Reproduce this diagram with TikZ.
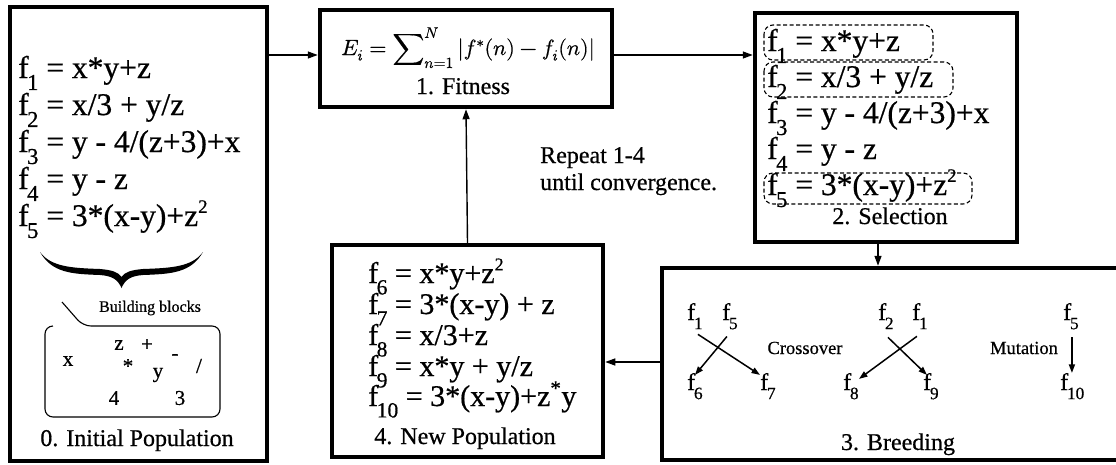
\documentclass[tikz,border=0pt]{standalone}
\usepackage{fontspec}
\usepackage{unicode-math}
\setmainfont{Liberation Serif}[FakeBold=0.6]
\setmathfont{Latin Modern Math}[FakeBold=0.6]
\usepackage{graphicx}
\usetikzlibrary{arrows.meta,calc}
\newcommand\fsb[1]{f\kern-0.05em\raisebox{-0.38em}{\scalebox{0.72}{#1}}}
\newcommand\sqr{\raisebox{0.42em}{\scalebox{0.6}{2}}}
\newcommand\fz[1]{\fontsize{#1}{#1}\selectfont}
\begin{document}
\begin{tikzpicture}[x=1pt,y=-1pt,
  boxx/.style={draw, line width=4.5pt, inner sep=0pt, anchor=center},
  arr/.style={line width=1.4pt, -{Triangle[length=10pt,width=7pt]}},
  sarr/.style={line width=1.5pt, -{Triangle[length=8.5pt,width=6pt]}},
  eq/.style={anchor=base west, inner sep=0pt, font=\fz{31.5}},
  eqs/.style={anchor=base west, inner sep=0pt, font=\fz{30}},
  captxt/.style={anchor=base, inner sep=0pt, font=\fz{24}},
  blk/.style={anchor=center, inner sep=0pt, font=\fz{21}},
  bf/.style={anchor=base west, inner sep=0pt, font=\fz{24}},
  labtxt/.style={anchor=center, inner sep=0pt, font=\fz{18.5}},
  dbox/.style={draw, dashed, dash pattern=on 4pt off 2.5pt, line width=1.1pt, rounded corners=9pt}]
\useasboundingbox (0,0) rectangle (1116,464);
\clip (0,0) rectangle (1116,464);
\coordinate (y55) at (0,55);
\coordinate (y362) at (0,362);
\coordinate (x878) at (878,0);

% boxes
\node[boxx, minimum width=257pt, minimum height=454pt] (b0) at (138.5,234) {};
\node[boxx, minimum width=292pt, minimum height=97pt] (b1) at (466,58.5) {};
\node[boxx, minimum width=262pt, minimum height=229pt] (b2) at (886,127.5) {};
\node[boxx, minimum width=478pt, minimum height=192pt] (b3) at (901,364) {};
\node[boxx, minimum width=271pt, minimum height=212pt] (b4) at (467.5,351) {};

% box 0
\node[eq] (p1) at (18,78) {\fsb{1} = x*y+z};
\node[eq] (p2) at (18,115) {\fsb{2} = x/3 + y/z};
\node[eq] (p3) at (18,152) {\fsb{3} = y - 4/(z+3)+x};
\node[eq] (p4) at (18,189) {\fsb{4} = y - z};
\node[eq] (p5) at (18,226) {\fsb{5} = 3*(x-y)+z\sqr};
\fill (40,252) .. controls (52,273) and (72,274) .. (100,275)
  .. controls (113,276) and (118,280) .. (121.5,288)
  .. controls (125,280) and (130,276) .. (143,275)
  .. controls (171,274) and (191,273) .. (203,252)
  .. controls (192,267) and (171,268) .. (143,269)
  .. controls (131,270) and (125,272) .. (121.5,277)
  .. controls (118,272) and (112,270) .. (100,269)
  .. controls (72,268) and (51,267) .. (40,252) -- cycle;
\node[anchor=center, inner sep=0pt, font=\fz{16}] (bb) at (150,308) {Building blocks};
\draw[line width=1.1pt, rounded corners=8pt] (62,302) -- (83,326) -- (220,326) -- (220,417) -- (45,417) -- (45,326) -- (53,326);
\node[blk] (kx) at (68,361) {x};
\node[blk] (kz) at (119,345) {z};
\node[blk] (kp) at (147,345) {+};
\node[blk] (km) at (175,357) {-};
\node[blk] (ks) at (199,366) {/};
\node[blk] (kst) at (128,366) {*};
\node[blk] (ky) at (158,375) {y};
\node[blk] (k4) at (114,398) {4};
\node[blk] (k3) at (180,398) {3};
\node[captxt] (c0) at (137,446) {0. Initial Population};

% box 1
\node[anchor=base west, inner sep=0pt, font=\fz{22}] (fit) at (341,55)
  {$E_i = \displaystyle\sum\nolimits_{n=1}^{N} |f^{*}(n) - f_i(n)|$};
\node[captxt] (c1) at (463,94) {1. Fitness};

% box 2
\node[eq] (s1) at (767,51) {\fsb{1} = x*y+z};
\node[eq] (s2) at (767,87) {\fsb{2} = x/3 + y/z};
\node[eq] (s3) at (767,123) {\fsb{3} = y - 4/(z+3)+x};
\node[eq] (s4) at (767,159) {\fsb{4} = y - z};
\node[eq] (s5) at (767,195) {\fsb{5} = 3*(x-y)+z\sqr};
\draw[dbox] (764,25) rectangle (933,60);
\draw[dbox] (764,62) rectangle (953,97);
\draw[dbox] (764,173) rectangle (972,204);
\node[captxt] (c2) at (890,224) {2. Selection};

% box 3
\node[bf] (a1) at (687,320) {\fsb{1}};
\node[bf] (a5) at (722,320) {\fsb{5}};
\node[bf] (a6) at (687,390) {\fsb{6}};
\node[bf] (a7) at (760,390) {\fsb{7}};
\node[bf] (d2) at (878,320) {\fsb{2}};
\node[bf] (d1) at (912,320) {\fsb{1}};
\node[bf] (d8) at (843,390) {\fsb{8}};
\node[bf] (d9) at (923,390) {\fsb{9}};
\node[bf] (m5) at (1063,320) {\fsb{5}};
\node[bf] (m10) at (1060,390) {\fsb{10}};
\draw[sarr] ([shift={(3,5)}]a1.south) -- ([shift={(0,2)}]a7.north west);
\draw[sarr] ([shift={(-3,7)}]a5.south) -- ([shift={(8,2)}]a6.north west);
\draw[sarr] ([shift={(-3,7)}]d1.south) -- ([shift={(16,6)}]d8.north west);
\draw[sarr] ([shift={(2,8)}]d2.south) -- ([shift={(-4,2)}]d9.north);
\draw[sarr] ([shift={(1,8)}]m5.south) -- ([shift={(1,0)}]m5.south |- m10.north);
\node[labtxt] (co) at (805,348) {Crossover};
\node[labtxt] (mu) at (1024,348) {Mutation};
\node[captxt] (c3) at (898,450) {3. Breeding};

% box 4
\node[eqs] (n6) at (368,283) {\fsb{6} = x*y+z\sqr};
\node[eqs] (n7) at (368,314) {\fsb{7} = 3*(x-y) + z};
\node[eqs] (n8) at (368,345) {\fsb{8} = x/3+z};
\node[eqs] (n9) at (368,376) {\fsb{9} = x*y + y/z};
\node[eqs] (n10) at (368,406) {\fsb{10} = 3*(x-y)+z\textsuperscript{*}y};
\node[captxt] (c4) at (465,444) {4. New Population};

% repeat text
\node[anchor=base west, inner sep=0pt, font=\fz{24}] (r1) at (540,163) {Repeat 1-4};
\node[anchor=base west, inner sep=0pt, font=\fz{24}] (r2) at (540,190) {until convergence.};

% connectors
\draw[arr] (b0.east |- y55) -- (b1.west |- y55);
\draw[arr] (b1.east |- y55) -- (b2.west |- y55);
\draw[arr] (b2.south -| x878) -- (b3.north -| x878);
\draw[arr] (b3.west |- y362) -- (b4.east |- y362);
\draw[arr] (b4.north) -- (b1.south);
\end{tikzpicture}
\end{document}
